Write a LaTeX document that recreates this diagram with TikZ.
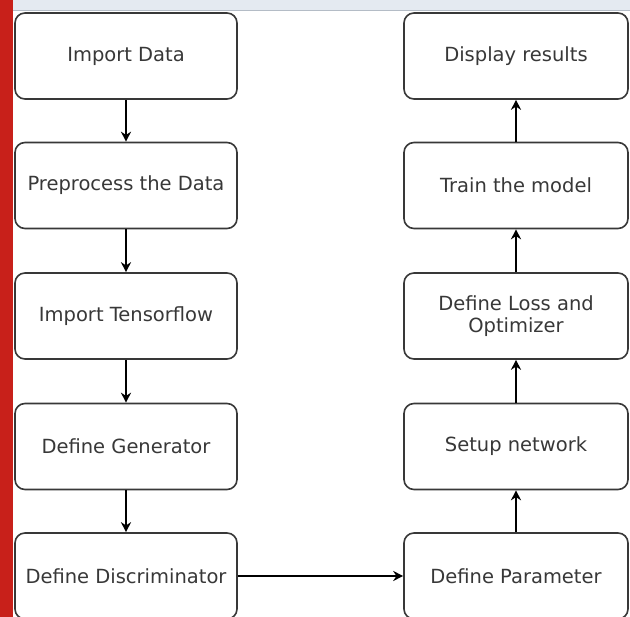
\documentclass[tikz,border=0pt]{standalone}
\usepackage{fontspec}
\setmainfont{DejaVu Sans}
\usetikzlibrary{arrows.meta}
\definecolor{edgebar}{HTML}{C8201A}
\definecolor{topstrip}{HTML}{E4EAF1}
\definecolor{stripline}{HTML}{B4BCC6}
\definecolor{ink}{HTML}{383838}
\tikzset{
  stepbox/.style={draw=ink, line width=1.6pt, rounded corners=10pt, fill=white,
    minimum height=86pt, inner sep=2pt, align=center, text=ink,
    font=\fontsize{19.5}{21.5}\selectfont},
  leftbox/.style={stepbox, minimum width=222pt},
  rightbox/.style={stepbox, minimum width=224pt},
  flow/.style={draw=black, line width=1.8pt, -{Stealth[length=10pt,width=10pt]}}
}
\begin{document}
\begin{tikzpicture}[x=1pt,y=-1pt]
  \useasboundingbox (0,0) rectangle (630,617);
  \fill[white] (0,0) rectangle (630,617);
  \begin{scope}
    \clip (0,0) rectangle (630,617);
    % window chrome
    \fill[topstrip] (13,0) rectangle (630,10);
    \draw[stripline, line width=0.8pt] (13,10) -- (630,10);
    \fill[edgebar] (0,0) rectangle (13,617);

    % left column
    \node[leftbox] (imp)  at (126,56)    {Import Data};
    \node[leftbox] (pre)  at (126,185.5) {Preprocess the Data};
    \node[leftbox] (tf)   at (126,316)   {Import Tensorflow};
    \node[leftbox] (gen)  at (126,446.5) {Define Generator};
    \node[leftbox] (disc) at (126,576)   {Define Discriminator};

    % right column
    \node[rightbox] (disp)  at (516,56)    {Display results};
    \node[rightbox] (train) at (516,185.5) {Train the model};
    \node[rightbox] (loss)  at (516,316)   {Define Loss and\\Optimizer};
    \node[rightbox] (setup) at (516,446.5) {Setup network};
    \node[rightbox] (param) at (516,576)   {Define Parameter};

    % connectors
    \draw[flow] (imp.south)  -- (pre.north);
    \draw[flow] (pre.south)  -- (tf.north);
    \draw[flow] (tf.south)   -- (gen.north);
    \draw[flow] (gen.south)  -- (disc.north);
    \draw[flow] (disc.east)  -- (param.west);
    \draw[flow] (param.north) -- (setup.south);
    \draw[flow] (setup.north) -- (loss.south);
    \draw[flow] (loss.north)  -- (train.south);
    \draw[flow] (train.north) -- (disp.south);
  \end{scope}
\end{tikzpicture}
\end{document}
